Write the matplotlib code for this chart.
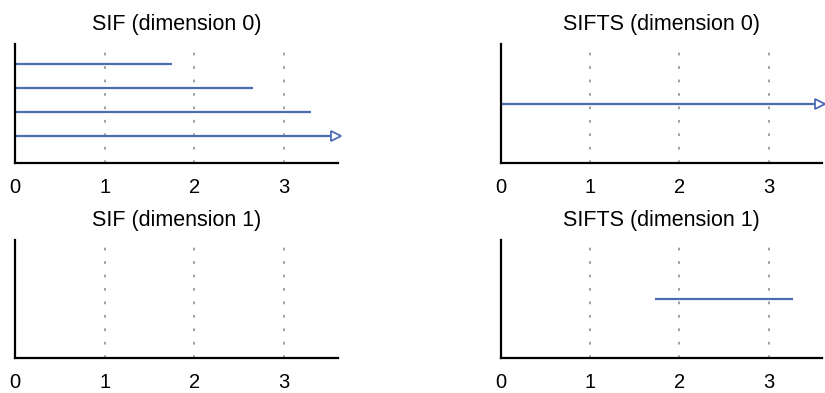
import numpy as np
import matplotlib
matplotlib.use("Agg")
import matplotlib.pyplot as plt

plt.rcParams['font.family'] = ['Liberation Sans', 'DejaVu Sans']

# Barcode data: (birth, death); np.inf = never dies
titles = ["SIF (dimension 0)", "SIFTS (dimension 0)", "SIF (dimension 1)", "SIFTS (dimension 1)"]
sif_dim0_birth = [0.0, 0.0, 0.0, 0.0]
sif_dim0_death = [np.inf, 3.3, 2.65, 1.75]
sifts_dim0_birth = [0.0]
sifts_dim0_death = [np.inf]
sif_dim1_birth = []
sif_dim1_death = []
sifts_dim1_birth = [1.73]
sifts_dim1_death = [3.28]
xticks = [0, 1, 2, 3]
xmax = 3.6

panels = [
    (sif_dim0_birth, sif_dim0_death),
    (sifts_dim0_birth, sifts_dim0_death),
    (sif_dim1_birth, sif_dim1_death),
    (sifts_dim1_birth, sifts_dim1_death),
]

W, H = 825, 393
fig = plt.figure(figsize=(W / 100, H / 100), dpi=100)

# axes boxes in pixels: left, right, top, bottom
boxes = [(15, 338, 44, 163), (501, 822, 44, 163), (15, 338, 240, 358), (501, 822, 240, 358)]
bar_color = '#4a6cb3'

for (births, deaths), title, (l, r, t, b) in zip(panels, titles, boxes):
    ax = fig.add_axes([l / W, 1 - b / H, (r - l) / W, (b - t) / H])
    n = len(births)
    if n <= 1:
        ys = [0.5]
        ax.set_ylim(0, 1)
    else:
        ys = list(range(1, n + 1))
        ax.set_ylim(-0.15, 4.85)
    for yv, bi, de in zip(ys, births, deaths):
        if np.isinf(de):
            ax.plot([bi, xmax - 0.02], [yv, yv], color=bar_color, lw=1.6, solid_capstyle='butt', clip_on=False)
            ax.plot([xmax - 0.02], [yv], marker='>', ms=7, mfc='white', mec=bar_color, mew=1.3,
                    color=bar_color, clip_on=False, zorder=5)
        else:
            ax.plot([bi, de], [yv, yv], color=bar_color, lw=1.6, solid_capstyle='butt')
    ax.set_xlim(0, xmax)
    ax.set_xticks(xticks)
    ax.set_xticklabels([str(v) for v in xticks], fontsize=14.5)
    ax.set_yticks([])
    ax.tick_params(axis='x', length=0, pad=11)
    ax.grid(axis='x', color='#888888', linestyle=(0, (1.8, 7)), linewidth=1.1)
    ax.set_axisbelow(True)
    for s in ['top', 'right']:
        ax.spines[s].set_visible(False)
    for s in ['left', 'bottom']:
        ax.spines[s].set_linewidth(1.6)
        ax.spines[s].set_color('black')
    ax.set_title(title, fontsize=15.5, pad=10)

fig.savefig('out.png', dpi=100)
